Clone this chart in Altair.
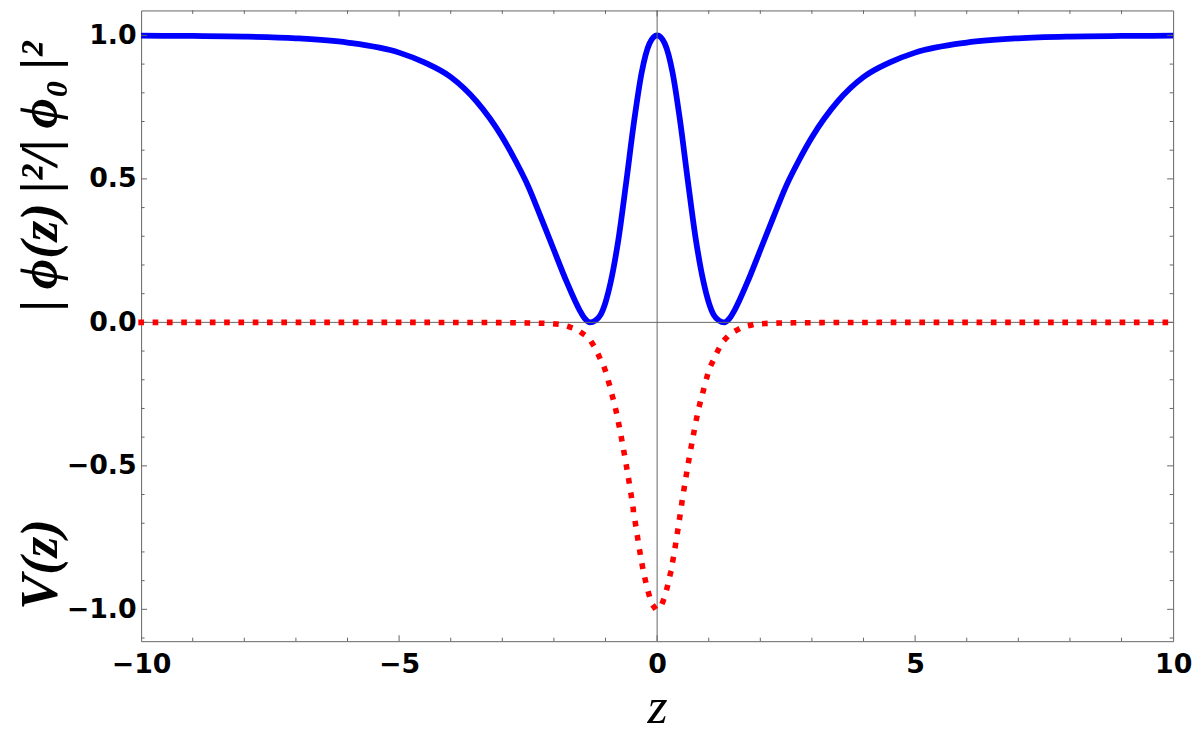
import altair as alt
import pandas as pd

# ---- data ----
z_phi = [-10, -9, -8, -7, -6, -5, -4.5, -4, -3.5, -3, -2.75, -2.5, -2.25, -2, -1.75, -1.5, -1.4, -1.3, -1.2,
         -1.1, -1.0, -0.9, -0.75, -0.6, -0.45, -0.3, -0.15, 0,
         0.15, 0.3, 0.45, 0.6, 0.75, 0.9, 1.0, 1.1, 1.2, 1.3, 1.4, 1.5, 1.75, 2, 2.25, 2.5, 2.75, 3,
         3.5, 4, 4.5, 5, 6, 7, 8, 9, 10]
phi_sq = [0.999, 0.998, 0.996, 0.99, 0.975, 0.94, 0.905, 0.855, 0.77, 0.645, 0.565, 0.475, 0.365, 0.252, 0.14, 0.042, 0.013, 0.0, 0.006,
          0.025, 0.07, 0.14, 0.289, 0.487, 0.696, 0.87, 0.971, 1.0,
          0.971, 0.87, 0.696, 0.487, 0.289, 0.14, 0.07, 0.025, 0.006, 0.0, 0.013, 0.042, 0.14, 0.252, 0.365, 0.475, 0.565, 0.645,
          0.77, 0.855, 0.905, 0.94, 0.975, 0.99, 0.996, 0.998, 0.999]

z_pot = [-10, -5, -3, -2.5, -2.0, -1.75, -1.5, -1.25, -1.1, -1.0, -0.9, -0.8, -0.7, -0.6, -0.5, -0.4, -0.3, -0.2, -0.1, 0,
         0.1, 0.2, 0.3, 0.4, 0.5, 0.6, 0.7, 0.8, 0.9, 1.0, 1.1, 1.25, 1.5, 1.75, 2.0, 2.5, 3, 5, 10]
pot = [0.0, 0.0, -0.001, -0.002, -0.005, -0.013, -0.032, -0.075, -0.128, -0.17, -0.235, -0.305, -0.395, -0.495, -0.605, -0.725, -0.835, -0.92, -0.978, -1.0,
       -0.978, -0.92, -0.835, -0.725, -0.605, -0.495, -0.395, -0.305, -0.235, -0.17, -0.128, -0.075, -0.032, -0.013, -0.005, -0.002, -0.001, 0.0, 0.0]

x_major = [-10, -5, 0, 5, 10]
x_major_ticks = [-5, 0, 5]
x_minor_ticks = [-9, -8, -7, -6, -4, -3, -2, -1, 1, 2, 3, 4, 6, 7, 8, 9]
y_major = [-1.0, -0.5, 0.0, 0.5, 1.0]
y_minor_ticks = [-1.1, -0.9, -0.8, -0.7, -0.6, -0.4, -0.3, -0.2, -0.1,
                 0.1, 0.2, 0.3, 0.4, 0.6, 0.7, 0.8, 0.9]
zero_line = [0.0]

y_title = ("V(z)" + "\u00a0" * 15 + "\u2009"
           + "|\u2009ϕ(z)\u2009|²/|\u2009ϕ₀\u2009|²")

# ---- layout ----
W, H = 1039, 635
FRAME = "#666666"
xs = alt.Scale(domain=[-10, 10], nice=False, zero=False)
ys = alt.Scale(domain=[-1.111, 1.087], nice=False, zero=False)

phi_df = pd.DataFrame({"z": z_phi, "v": phi_sq})
pot_df = pd.DataFrame({"z": z_pot, "v": pot})

x_axis = alt.Axis(values=x_major, format="d", grid=False, ticks=False, domain=False,
                  labelFont="DejaVu Sans", labelFontWeight="bold", labelFontSize=27,
                  labelColor="black", labelPadding=11, labelFlush=False,
                  title="z", titleFont="Liberation Serif", titleFontStyle="italic",
                  titleFontWeight="normal", titleFontSize=52, titleColor="black",
                  titleBaseline="alphabetic", titleY=82)
y_axis = alt.Axis(values=y_major, format=".1f", grid=False, ticks=False, domain=False,
                  labelFont="DejaVu Sans", labelFontWeight="bold", labelFontSize=27,
                  labelColor="black", labelPadding=5,
                  title=y_title, titleFont="Liberation Serif", titleFontStyle="italic",
                  titleFontWeight="bold", titleFontSize=53, titleColor="black",
                  titleX=-101, titleY=317, titleBaseline="middle", titleAngle=270)

vline = alt.Chart(pd.DataFrame({"z": zero_line})).mark_rule(color=FRAME, strokeWidth=1).encode(
    x=alt.X("z:Q", scale=xs, axis=None), y=alt.value(0), y2=alt.value(H))
hline = alt.Chart(pd.DataFrame({"v": zero_line})).mark_rule(color=FRAME, strokeWidth=1).encode(
    y=alt.Y("v:Q", scale=ys, axis=None), x=alt.value(0), x2=alt.value(W))


def xticks(vals, y0, y1):
    return alt.Chart(pd.DataFrame({"t": vals})).mark_rule(color=FRAME, strokeWidth=1).encode(
        x=alt.X("t:Q", scale=xs, axis=None), y=alt.value(y0), y2=alt.value(y1))


def yticks(vals, x0, x1):
    return alt.Chart(pd.DataFrame({"t": vals})).mark_rule(color=FRAME, strokeWidth=1).encode(
        y=alt.Y("t:Q", scale=ys, axis=None), x=alt.value(x0), x2=alt.value(x1))


tick_layers = [
    xticks(x_major_ticks, H, H - 6), xticks(x_minor_ticks, H, H - 3.5),
    xticks(x_major_ticks, 0, 6), xticks(x_minor_ticks, 0, 3.5),
    yticks(y_major, 0, 6), yticks(y_minor_ticks, 0, 3.5),
    yticks(y_major, W, W - 6), yticks(y_minor_ticks, W, W - 3.5),
]

blue = alt.Chart(phi_df).mark_line(color="#0000ff", strokeWidth=5.8, interpolate="monotone").encode(
    x=alt.X("z:Q", scale=xs, axis=x_axis), y=alt.Y("v:Q", scale=ys, axis=y_axis))
red = alt.Chart(pot_df).mark_line(color="#ff0000", strokeWidth=5.6, strokeDash=[0.1, 14.3],
                                  strokeCap="square", interpolate="monotone").encode(
    x=alt.X("z:Q", scale=xs, axis=None), y=alt.Y("v:Q", scale=ys, axis=None))

chart = alt.layer(blue, vline, hline, *tick_layers, red).resolve_axis(
    x="independent", y="independent"
).properties(
    width=W, height=H,
    autosize=alt.AutoSizeParams(type="none"),
    padding={"left": 134, "top": 0, "right": 19, "bottom": 93},
).configure_view(stroke=FRAME, strokeWidth=1)

chart.save("out.html", embed_options={"renderer": "svg", "actions": False})
